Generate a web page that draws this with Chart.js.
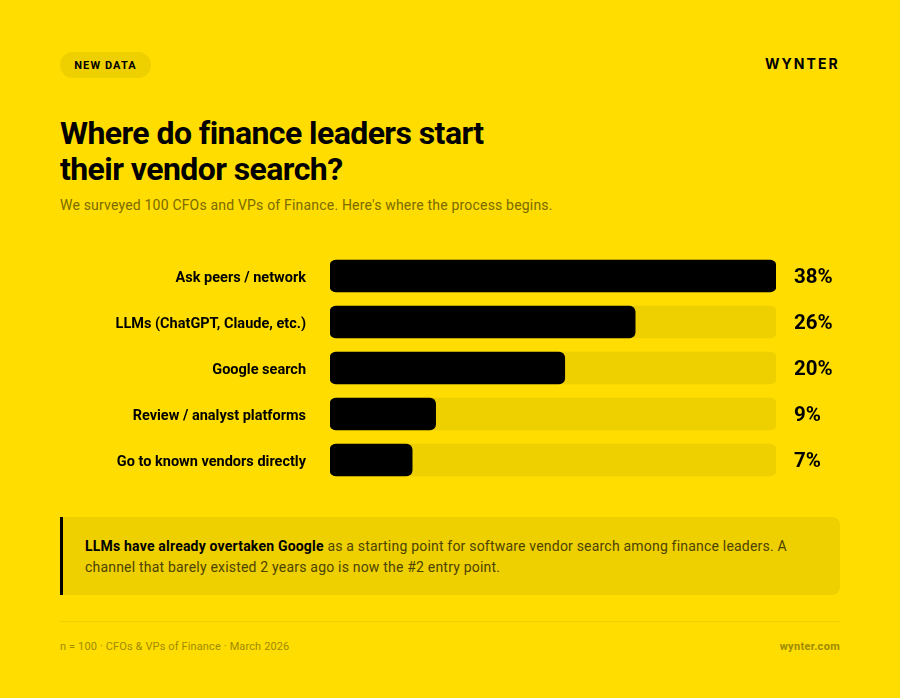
<!DOCTYPE html>
<html>
<head>
<meta charset="utf-8">
<script src="https://cdn.jsdelivr.net/npm/chart.js@4"></script>
<style>
  * { box-sizing: border-box; margin: 0; padding: 0; }
  body { width: 900px; height: 698px; background: #ffdd00; color: #000; font-family: Roboto, sans-serif; position: relative; overflow: hidden; }
  .badge { position: absolute; left: 60px; top: 52px; height: 26px; width: 91px; line-height: 27px; text-align: center; background: #eecf00; border-radius: 13px; font-size: 11px; font-weight: 700; letter-spacing: 1.1px; }
  .brand { position: absolute; left: 765px; top: 55px; font-family: Inter, sans-serif; font-size: 14px; line-height: 18px; font-weight: 700; letter-spacing: 2.05px; white-space: nowrap; }
  h1 { position: absolute; left: 60px; top: 115px; font-size: 32px; line-height: 36px; font-weight: 700; letter-spacing: -0.57px; white-space: nowrap; }
  .sub { position: absolute; left: 60px; top: 196px; font-size: 14px; line-height: 18px; letter-spacing: 0.19px; color: #7a6a00; white-space: nowrap; }
  #wrap { position: absolute; left: 60px; top: 253px; width: 780px; height: 230px; }
  .note { position: absolute; left: 60px; top: 517px; width: 780px; height: 78px; padding: 19px 20px 0 22px; background: #eecf00; border-left: 3px solid #000; border-radius: 0 8px 8px 0; font-size: 14px; line-height: 21px; letter-spacing: 0.2px; color: #4d4300; white-space: nowrap; }
  .note b { color: #000; font-weight: 700; }
  .rule { position: absolute; left: 60px; top: 621px; width: 780px; height: 1px; background: #eecf00; }
  .foot { position: absolute; top: 640px; font-size: 11px; line-height: 14px; letter-spacing: 0.13px; color: #a08b00; white-space: nowrap; }
</style>
</head>
<body>
<div class="badge">NEW DATA</div>
<div class="brand">WYNTER</div>
<h1>Where do finance leaders start<br>their vendor search?</h1>
<div class="sub">We surveyed 100 CFOs and VPs of Finance. Here's where the process begins.</div>
<div id="wrap"><canvas id="myChart"></canvas></div>
<div class="note"><b>LLMs have already overtaken Google</b> as a starting point for software vendor search among finance leaders. A<br>channel that barely existed 2 years ago is now the #2 entry point.</div>
<div class="rule"></div>
<div class="foot" style="left:60px">n = 100 · CFOs &amp; VPs of Finance · March 2026</div>
<div class="foot" style="right:60px;font-weight:700;letter-spacing:0.3px">wynter.com</div>
<script>
const categories = ["Ask peers / network", "LLMs (ChatGPT, Claude, etc.)", "Google search", "Review / analyst platforms", "Go to known vendors directly"];
const shares = [38, 26, 20, 9, 7];
const trackValues = [38, 38, 38, 38, 38];
const shareLabels = ["38%", "26%", "20%", "9%", "7%"];

// tick padding would otherwise also shrink the plot height
const fitAxis = (axis, width) => {
  axis.width = width;
  axis.paddingTop = 0;
  axis.paddingBottom = 0;
};

const main = () => {
  const ctx = document.querySelector("#myChart");
  new Chart(ctx, {
    type: "bar",
    data: {
      labels: categories,
      datasets: [
        { data: shares, backgroundColor: "#000", order: 1 },
        { data: trackValues, backgroundColor: "#eecf00", order: 2 },
      ],
    },
    options: {
      indexAxis: "y",
      responsive: true,
      maintainAspectRatio: false,
      animation: false,
      layout: { padding: 0, autoPadding: false },
      datasets: {
        bar: { grouped: false, barThickness: 32, borderRadius: 6, borderSkipped: false },
      },
      plugins: { legend: { display: false }, tooltip: { enabled: false } },
      scales: {
        x: { display: false, min: 0, max: 38 },
        y: {
          position: "left",
          grid: { display: false, drawTicks: false },
          border: { display: false },
          afterFit: (axis) => fitAxis(axis, 270),
          ticks: { padding: 24, labelOffset: 2, color: "#000", font: { family: "Roboto", size: 14.5, weight: "700" } },
        },
        y2: {
          position: "right",
          type: "category",
          labels: shareLabels,
          offset: true,
          grid: { display: false, drawTicks: false },
          border: { display: false },
          afterFit: (axis) => fitAxis(axis, 64),
          ticks: { padding: 18, labelOffset: 2, color: "#000", font: { family: "Roboto", size: 20.5, weight: "700" } },
        },
      },
    },
  });
};
main();
</script>
</body>
</html>
